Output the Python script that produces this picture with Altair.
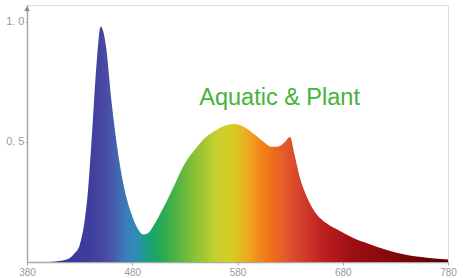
import altair as alt
import pandas as pd

wavelength = [380, 400, 410, 420, 425, 430, 435, 438, 442, 446, 450, 455, 460, 465, 470, 475,
              480, 485, 490, 495, 500, 510, 520, 530, 540, 550, 560, 570, 578, 585, 595, 605,
              612, 618, 624, 630, 634, 640, 646, 655, 665, 677, 690, 705, 722, 740, 760, 780]
intensity = [0.0, 0.0, 0.004, 0.015, 0.035, 0.07, 0.18, 0.3, 0.55, 0.82, 0.98, 0.9, 0.68, 0.5, 0.36, 0.26,
             0.19, 0.14, 0.115, 0.12, 0.15, 0.23, 0.32, 0.41, 0.47, 0.52, 0.55, 0.57, 0.575, 0.565, 0.535, 0.5,
             0.48, 0.48, 0.495, 0.52, 0.45, 0.34, 0.27, 0.2, 0.16, 0.13, 0.10, 0.075, 0.05, 0.03, 0.018, 0.01]

# spectrum colour stops (wavelength, colour)
stop_wl = [380, 420, 440, 455, 465, 475, 485, 495, 505, 520, 540, 560, 575, 590, 600, 612, 625, 640, 660, 690, 730, 780]
stop_col = ["#3a3a90", "#38389a", "#3e3e9c", "#4a4aa4", "#4464b0", "#3b7fbb", "#2a8fb5", "#18a07a",
            "#22a85a", "#48b244", "#8cc234", "#c6d02e", "#d8cc22", "#eeaa20", "#f28a1c", "#ef7018",
            "#e45a2c", "#d6402c", "#bf2020", "#9c0e12", "#800808", "#5a0000"]

x_ticks = [380, 480, 580, 680, 780]
y_ticks = [0.5, 1.0]
y_tick_labels = ["0. 5", "1. 0"]
label_text = ["Aquatic & Plant"]
label_wl = [620]
label_val = [0.655]

x_min, x_max = 380, 780
y_max = 1.07

df = pd.DataFrame({"wl": wavelength, "val": intensity})

stops = [alt.GradientStop(offset=(w - x_min) / (x_max - x_min), color=c) for w, c in zip(stop_wl, stop_col)]
grad = alt.Gradient(gradient="linear", stops=stops, x1=0, x2=1, y1=0, y2=0)

xscale = alt.Scale(domain=[x_min, x_max], nice=False, zero=False)
yscale = alt.Scale(domain=[0, y_max], nice=False)

label_expr = "datum.value == 1 ? '" + y_tick_labels[1] + "' : (datum.value == 0.5 ? '" + y_tick_labels[0] + "' : '')"

area = alt.Chart(df).mark_area(interpolate="monotone", color=grad, line=False).encode(
    x=alt.X("wl:Q", scale=xscale,
            axis=alt.Axis(values=x_ticks, title=None, grid=False, domainColor="#a8a8a8", domainWidth=1.5,
                          tickColor="#a8a8a8", tickSize=3, labelColor="#9a9a9a", labelFontSize=10,
                          labelFont="Liberation Sans", labelPadding=2, labelFlush=False)),
    y=alt.Y("val:Q", scale=yscale,
            axis=alt.Axis(values=y_ticks, title=None, grid=False, domainColor="#a8a8a8", domainWidth=1.5,
                          tickColor="#a8a8a8", tickSize=2, labelColor="#9a9a9a", labelFontSize=11,
                          labelFont="Liberation Sans", labelPadding=1, labelExpr=label_expr)),
)

arrow = alt.Chart(pd.DataFrame({"wl": [x_min], "val": [y_max - 0.015]})).mark_point(
    shape="triangle-up", filled=True, size=30, color="#8a8a8a", opacity=1
).encode(x=alt.X("wl:Q", scale=xscale), y=alt.Y("val:Q", scale=yscale))

text = alt.Chart(pd.DataFrame({"t": label_text, "wl": label_wl, "val": label_val})).mark_text(
    font="Liberation Sans", fontSize=23.5, color="#46b23a", baseline="alphabetic", align="center"
).encode(x=alt.X("wl:Q", scale=xscale), y=alt.Y("val:Q", scale=yscale), text="t:N")

chart = alt.layer(area, arrow, text).properties(
    width=421, height=257,
    autosize=alt.AutoSizeParams(type="none"),
    padding={"left": 27, "top": 5, "right": 17, "bottom": 16},
).configure_view(stroke=None).configure(background="white")

chart.save("out.html", embed_options={"renderer": "svg", "actions": False})
